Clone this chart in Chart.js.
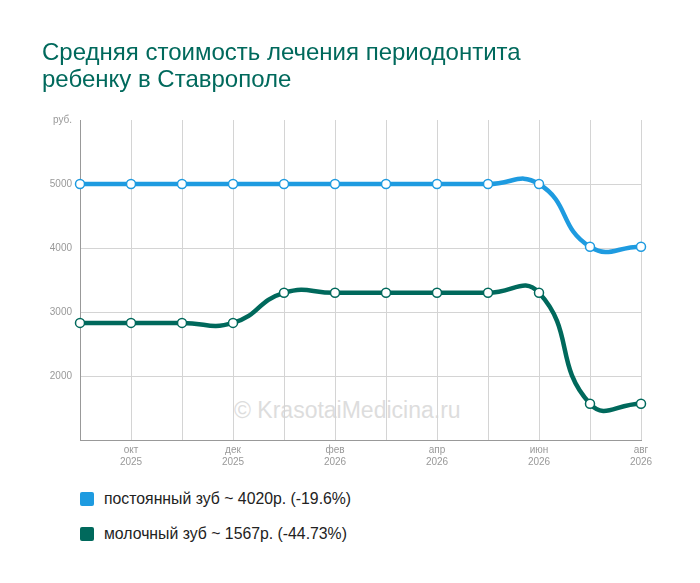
<!DOCTYPE html>
<html><head><meta charset="utf-8">
<script src="https://cdn.jsdelivr.net/npm/chart.js@4"></script>
<style>
body{margin:0;background:#fff;font-family:Arial,"Liberation Sans",sans-serif;}
#wrap{position:relative;width:700px;height:583px;}
#c{position:absolute;left:0;top:0;}
#title{position:absolute;left:42px;top:38px;color:#00695c;font-size:24px;line-height:27px;}
.lg{position:absolute;left:80px;font-size:15.8px;color:#222;display:flex;align-items:center;}
.sw{width:14px;height:14px;border-radius:2px;margin-right:10px;}
#wm{position:absolute;left:234px;top:397px;font-size:23px;color:#ddd;}
</style></head><body>
<div id="wrap">
<div id="wm">© KrasotaiMedicina.ru</div>
<canvas id="c" width="700" height="480"></canvas>
<div id="title">Средняя стоимость лечения периодонтита<br>ребенку в Ставрополе</div>
<div class="lg" style="top:490px"><div class="sw" style="background:#1e9be0"></div>постоянный зуб ~ 4020р. (-19.6%)</div>
<div class="lg" style="top:525px"><div class="sw" style="background:#00695c"></div>молочный зуб ~ 1567р. (-44.73%)</div>
</div>
<script>
const months=[["сен","2025"],["окт","2025"],["ноя","2025"],["дек","2025"],["янв","2026"],["фев","2026"],["мар","2026"],["апр","2026"],["май","2026"],["июн","2026"],["июл","2026"],["авг","2026"]];
const permanent=[5000,5000,5000,5000,5000,5000,5000,5000,5000,5000,4020,4020];
const milk=[2830,2830,2830,2830,3300,3300,3300,3300,3300,3300,1567,1567];
const ds=(d,c)=>({data:d,borderColor:c,borderWidth:4.5,tension:0.5,pointRadius:4.5,pointBackgroundColor:'#fff',pointBorderColor:c,pointBorderWidth:1.5,fill:false});
new Chart(document.getElementById('c'),{type:'line',
data:{labels:months,datasets:[ds(permanent,'#1e9be0'),ds(milk,'#00695c')]},
options:{responsive:false,animation:false,layout:{padding:{top:120,right:59,left:0,bottom:0}},
plugins:{legend:{display:false},tooltip:{enabled:false}},
scales:{
x:{offset:false,afterFit:a=>{a.height=40},
grid:{color:'#d4d4d4',drawTicks:false},border:{color:'#999'},
ticks:{autoSkip:false,maxRotation:0,color:'#999',font:{size:10},padding:4,callback:(v,i)=>i%2===1?months[i]:''}},
y:{min:1000,max:6000,afterFit:a=>{a.width=80},
grid:{color:c=>(c.tick.value>1000&&c.tick.value<6000)?'#d4d4d4':'rgba(0,0,0,0)',drawTicks:false},border:{color:'#999'},
ticks:{stepSize:1000,color:'#999',font:{size:10},padding:8,callback:v=>v===6000?'руб.':(v===1000?'':v)}}
}}});
</script></body></html>
